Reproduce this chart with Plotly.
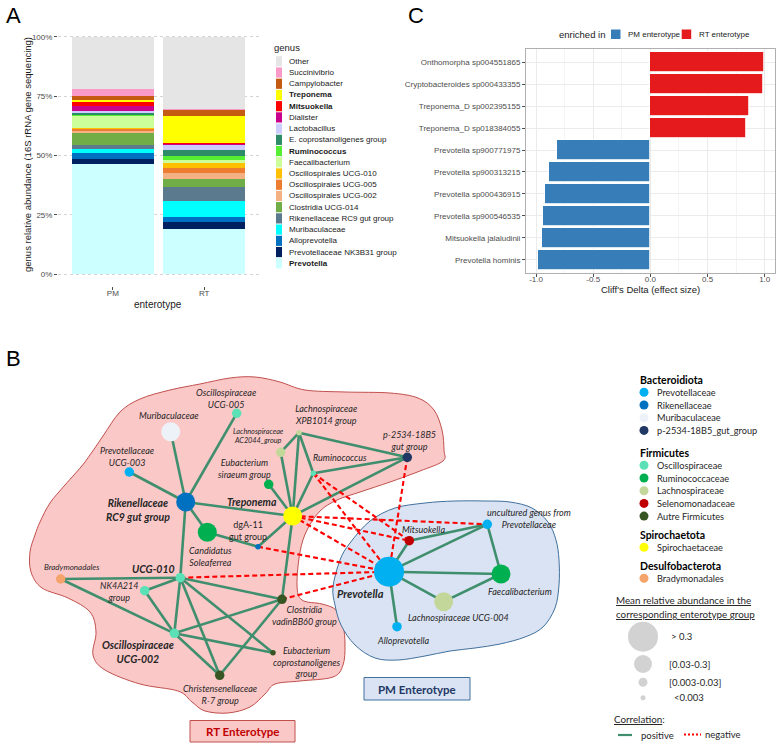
import plotly.graph_objects as go

W, H = 777, 745

# ---------------- Panel A data ----------------
enterotypes = ["PM", "RT"]
genus = ["Prevotella", "Prevotellaceae NK3B31 group", "Alloprevotella", "Muribaculaceae",
         "Rikenellaceae RC9 gut group", "Clostridia UCG-014", "Oscillospirales UCG-002",
         "Oscillospirales UCG-005", "Oscillospirales UCG-010", "Faecalibacterium", "Ruminococcus",
         "E. coprostanoligenes group", "Lactobacillus", "Dialister", "Mitsuokella", "Treponema",
         "Campylobacter", "Succinivibrio", "Other"]
pm_abund = [46.3, 2.4, 2.4, 1.8, 1.5, 5.5, 0.8, 0.6, 0.4, 5.0, 0.4, 1.0, 0.5, 2.4, 1.6, 0.8, 1.7, 3.0, 21.9]
rt_abund = [18.9, 3.1, 1.9, 6.8, 6.1, 3.3, 2.6, 2.2, 2.1, 1.2, 1.5, 2.7, 2.1, 0.6, 0.2, 11.2, 2.8, 0.4, 30.3]
genus_bold = ["Prevotella", "Ruminococcus", "Mitsuokella", "Treponema"]
pct_ticks = [0, 25, 50, 75, 100]
pct_labels = ["0%", "25%", "50%", "75%", "100%"]

# ---------------- Panel C data ----------------
species = ["Prevotella hominis", "Mitsuokella jalaludinii", "Prevotella sp900546535",
           "Prevotella sp000436915", "Prevotella sp900313215", "Prevotella sp900771975",
           "Treponema_D sp018384055", "Treponema_D sp002395155",
           "Cryptobacteroides sp000433355", "Onthomorpha sp004551865"]
cliffs_delta = [-0.986, -0.95, -0.936, -0.924, -0.889, -0.82, 0.837, 0.866, 0.983, 0.995]
delta_ticks = [-1.0, -0.5, 0.0, 0.5, 1.0]
delta_labels = ["-1.0", "-0.5", "0.0", "0.5", "1.0"]
enriched_groups = ["PM enterotype", "RT enterotype"]

# ---------------- Panel B data (network) ----------------
node_names = ["Prevotella", "Alloprevotella", "uncultured genus from Prevotellaceae",
              "Prevotellaceae UCG-003", "Rikenellaceae RC9 gut group", "dgA-11 gut group",
              "Muribaculaceae", "p-2534-18B5 gut group", "Oscillospiraceae UCG-005", "UCG-010",
              "Oscillospiraceae UCG-002", "NK4A214 group", "Ruminococcus", "Candidatus Soleaferrea",
              "Faecalibacterium", "Eubacterium siraeum group", "Lachnospiraceae XPB1014 group",
              "Lachnospiraceae AC2044_group", "Lachnospiraceae UCG-004", "Mitsuokella",
              "Clostridia vadinBB60 group", "Christensenellaceae R-7 group",
              "Eubacterium coprostanoligenes group", "Treponema", "Bradymonadales"]
node_family = ["Prevotellaceae", "Prevotellaceae", "Prevotellaceae", "Prevotellaceae",
               "Rikenellaceae", "Rikenellaceae", "Muribaculaceae", "p-2534-18B5_gut_group",
               "Oscillospiraceae", "Oscillospiraceae", "Oscillospiraceae", "Oscillospiraceae",
               "Oscillospiraceae", "Ruminococcaceae", "Ruminococcaceae", "Ruminococcaceae",
               "Lachnospiraceae", "Lachnospiraceae", "Lachnospiraceae", "Selenomonadaceae",
               "Autre Firmicutes", "Autre Firmicutes", "Autre Firmicutes", "Spirochaetaceae",
               "Bradymonadales"]
node_abundance = [">0.3", "[0.003-0.03]", "[0.003-0.03]", "[0.003-0.03]", "[0.03-0.3]", "<0.003",
                  "[0.03-0.3]", "[0.003-0.03]", "[0.003-0.03]", "[0.003-0.03]", "[0.003-0.03]",
                  "[0.003-0.03]", "<0.003", "[0.03-0.3]", "[0.03-0.3]", "[0.003-0.03]", "<0.003",
                  "[0.003-0.03]", "[0.03-0.3]", "[0.003-0.03]", "[0.003-0.03]", "[0.003-0.03]",
                  "<0.003", "[0.03-0.3]", "[0.003-0.03]"]
positive_edges = [
    ("Muribaculaceae", "Rikenellaceae RC9 gut group"),
    ("Oscillospiraceae UCG-005", "Rikenellaceae RC9 gut group"),
    ("Prevotellaceae UCG-003", "Rikenellaceae RC9 gut group"),
    ("Rikenellaceae RC9 gut group", "Treponema"),
    ("Rikenellaceae RC9 gut group", "Candidatus Soleaferrea"),
    ("Rikenellaceae RC9 gut group", "UCG-010"),
    ("Candidatus Soleaferrea", "dgA-11 gut group"),
    ("dgA-11 gut group", "Treponema"),
    ("Lachnospiraceae XPB1014 group", "Lachnospiraceae AC2044_group"),
    ("Lachnospiraceae XPB1014 group", "Treponema"),
    ("Lachnospiraceae XPB1014 group", "Ruminococcus"),
    ("Lachnospiraceae XPB1014 group", "p-2534-18B5 gut group"),
    ("Lachnospiraceae AC2044_group", "Treponema"),
    ("Eubacterium siraeum group", "Treponema"),
    ("Ruminococcus", "Treponema"),
    ("Ruminococcus", "p-2534-18B5 gut group"),
    ("p-2534-18B5 gut group", "Treponema"),
    ("Treponema", "Clostridia vadinBB60 group"),
    ("UCG-010", "Bradymonadales"),
    ("UCG-010", "NK4A214 group"),
    ("UCG-010", "Oscillospiraceae UCG-002"),
    ("UCG-010", "Clostridia vadinBB60 group"),
    ("UCG-010", "Christensenellaceae R-7 group"),
    ("UCG-010", "Eubacterium coprostanoligenes group"),
    ("Bradymonadales", "Oscillospiraceae UCG-002"),
    ("NK4A214 group", "Oscillospiraceae UCG-002"),
    ("Oscillospiraceae UCG-002", "Clostridia vadinBB60 group"),
    ("Oscillospiraceae UCG-002", "Eubacterium coprostanoligenes group"),
    ("Oscillospiraceae UCG-002", "Christensenellaceae R-7 group"),
    ("Clostridia vadinBB60 group", "Christensenellaceae R-7 group"),
    ("Prevotella", "Mitsuokella"),
    ("Prevotella", "uncultured genus from Prevotellaceae"),
    ("Prevotella", "Faecalibacterium"),
    ("Prevotella", "Lachnospiraceae UCG-004"),
    ("Prevotella", "Alloprevotella"),
    ("Mitsuokella", "uncultured genus from Prevotellaceae"),
    ("uncultured genus from Prevotellaceae", "Faecalibacterium"),
    ("Faecalibacterium", "Lachnospiraceae UCG-004"),
]
negative_edges = [
    ("Treponema", "uncultured genus from Prevotellaceae"),
    ("Treponema", "Mitsuokella"),
    ("Treponema", "Prevotella"),
    ("Ruminococcus", "Mitsuokella"),
    ("Ruminococcus", "Prevotella"),
    ("p-2534-18B5 gut group", "Prevotella"),
    ("dgA-11 gut group", "Prevotella"),
    ("UCG-010", "Prevotella"),
    ("Clostridia vadinBB60 group", "Prevotella"),
]
legend_phyla = ["Bacteroidiota", "Firmicutes", "Spirochaetota", "Desulfobacterota"]
legend_families = [["Prevotellaceae", "Rikenellaceae", "Muribaculaceae", "p-2534-18B5_gut_group"],
                   ["Oscillospiraceae", "Ruminococcaceae", "Lachnospiraceae", "Selenomonadaceae",
                    "Autre Firmicutes"],
                   ["Spirochaetaceae"],
                   ["Bradymonadales"]]
abundance_classes = ["> 0.3", "[0.03-0.3]", "[0.003-0.03]", "<0.003"]

# ---------------- styles / layout positions ----------------
genus_colors = {
    "Prevotella": "#CCFFFF", "Prevotellaceae NK3B31 group": "#002060", "Alloprevotella": "#0070C0",
    "Muribaculaceae": "#00FFFF", "Rikenellaceae RC9 gut group": "#5B7A8E", "Clostridia UCG-014": "#70AD47",
    "Oscillospirales UCG-002": "#F4B183", "Oscillospirales UCG-005": "#ED7D31",
    "Oscillospirales UCG-010": "#FFC000", "Faecalibacterium": "#CCFF99", "Ruminococcus": "#55EE33",
    "E. coprostanoligenes group": "#2E8B67", "Lactobacillus": "#CCCCFF", "Dialister": "#C8008C",
    "Mitsuokella": "#FF0000", "Treponema": "#FFFF00", "Campylobacter": "#C55A11",
    "Succinivibrio": "#F99AC9", "Other": "#E5E5E5"}
family_colors = {
    "Prevotellaceae": "#00B0F0", "Rikenellaceae": "#0070C0", "Muribaculaceae": "#EDF2F9",
    "p-2534-18B5_gut_group": "#1F3864", "Oscillospiraceae": "#5CE1B6", "Ruminococcaceae": "#00B050",
    "Lachnospiraceae": "#C4D79B", "Selenomonadaceae": "#C00000", "Autre Firmicutes": "#375623",
    "Spirochaetaceae": "#FFFF00", "Bradymonadales": "#F4A46A"}
size_px = {">0.3": 30, "[0.03-0.3]": 19, "[0.003-0.03]": 9.5, "<0.003": 5.5}
legend_size_px = [30, 18, 9, 5]

node_x = [389, 397, 487.3, 129.3, 185.7, 258, 170.7, 407.3, 236.7, 180.3, 174.3, 144.7, 313.3, 207.3,
          501, 268.7, 299, 280.7, 443.7, 409.3, 282, 219.7, 273, 292.7, 60.7]
node_y = [571.7, 626.7, 524.3, 472, 502, 546.7, 431.7, 457.3, 413.3, 577.7, 633.3, 590.7, 473.3, 532.3,
          574, 484.3, 432.7, 452.3, 601.7, 540.7, 599.3, 675.3, 652.7, 516, 579]

# label text, x, y, size, style ("i" italic, "b" bold italic, "n" normal)
net_labels = [
    ("Oscillospiraceae<br>UCG-005", 226, 398, 9, "i"),
    ("Muribaculaceae", 169, 415, 9, "i"),
    ("Lachnospiraceae<br>XPB1014 group", 326, 414, 9, "i"),
    ("Lachnospiraceae<br>AC2044_group", 258, 436, 7.3, "i"),
    ("Prevotellaceae<br>UCG-003", 127, 456, 9, "i"),
    ("Eubacterium<br>siraeum group", 244, 468, 9, "i"),
    ("Ruminococcus", 340, 457, 9, "i"),
    ("p-2534-18B5<br>gut group", 409, 440.5, 9, "i"),
    ("Rikenellaceae<br>RC9 gut group", 138, 509.5, 10.5, "b"),
    ("Treponema", 252, 502, 10.5, "b"),
    ("Candidatus<br>Soleaferrea", 210, 556, 9, "i"),
    ("dgA-11<br>gut group", 248, 530, 9, "n"),
    ("UCG-010", 153, 569, 10.5, "b"),
    ("Bradymonadales", 72, 567, 8, "i"),
    ("NK4A214<br>group", 119, 591, 9, "i"),
    ("Clostridia<br>vadinBB60 group", 304, 615, 9, "i"),
    ("Oscillospiraceae<br>UCG-002", 138, 652, 10.5, "b"),
    ("Eubacterium<br>coprostanoligenes<br>group", 306, 661.5, 9, "i"),
    ("Christensenellaceae<br>R-7 group", 220, 694.5, 9, "i"),
    ("Prevotella", 360, 593, 11, "b"),
    ("Mitsuokella", 423, 529, 9, "i"),
    ("uncultured genus from<br>Prevotellaceae", 529, 518, 9, "i"),
    ("Faecalibacterium", 520, 591, 9, "i"),
    ("Lachnospiraceae UCG-004", 458, 617, 9, "i"),
    ("Alloprevotella", 403, 640, 9, "i"),
]

RT_OUTLINE = [(40, 522), (50, 503), (65, 485), (85, 462), (103, 436), (120, 412), (140, 399), (170, 390),
              (200, 384), (230, 378), (255, 377), (280, 382), (305, 390), (345, 392), (390, 393),
              (418, 398), (434, 410), (442, 430), (444, 450), (443, 461), (420, 471), (390, 482),
              (360, 492), (337, 500), (320, 511), (307, 530), (300, 552), (297, 585), (302, 600),
              (322, 604), (336, 610), (343, 625), (345, 645), (343, 665), (333, 677), (300, 681),
              (275, 684), (265, 694), (250, 707), (228, 713), (205, 711), (192, 702), (178, 691),
              (140, 684), (105, 670), (93, 655), (96, 632), (90, 612), (68, 598), (42, 588),
              (31, 572), (30, 552), (35, 535)]
PM_OUTLINE = [(333, 587), (340, 560), (350, 543), (370, 521), (395, 508), (425, 503), (455, 501),
              (485, 501), (510, 502), (532, 508), (548, 522), (556, 540), (559, 560), (559, 585),
              (555, 608), (543, 627), (525, 637), (500, 644), (475, 648), (450, 651), (425, 656),
              (398, 660), (375, 658), (355, 645), (341, 625), (335, 605)]

GG_FONT = "Liberation Sans, Arial, sans-serif"
NET_FONT = "Lato, Open Sans, sans-serif"


def smooth_path(pts):
    n = len(pts)
    d = f"M {pts[0][0]},{pts[0][1]}"
    for i in range(n):
        p0, p1, p2, p3 = pts[(i - 1) % n], pts[i], pts[(i + 1) % n], pts[(i + 2) % n]
        c1 = (p1[0] + (p2[0] - p0[0]) / 6, p1[1] + (p2[1] - p0[1]) / 6)
        c2 = (p2[0] - (p3[0] - p1[0]) / 6, p2[1] - (p3[1] - p1[1]) / 6)
        d += f" C {c1[0]:.1f},{c1[1]:.1f} {c2[0]:.1f},{c2[1]:.1f} {p2[0]:.1f},{p2[1]:.1f}"
    return d + " Z"


def dom_x(a, b):
    return [a / W, b / W]


def dom_y(top, bottom):
    return [1 - bottom / H, 1 - top / H]


fig = go.Figure()
annotations = []
shapes = []


def ann(text, x, y, size=9, color="#262626", family=NET_FONT, xanchor="center", yanchor="middle",
        align="center", **kw):
    annotations.append(dict(text=text, x=x, y=y, xref="x3", yref="y3", showarrow=False,
                            font=dict(size=size, color=color, family=family), xanchor=xanchor,
                            yanchor=yanchor, align=align, **kw))


# ---------------- Panel A ----------------
for g, pm, rt in zip(genus, pm_abund, rt_abund):
    fig.add_trace(go.Bar(x=enterotypes, y=[pm, rt], name=g, width=0.9,
                         marker=dict(color=genus_colors[g], line=dict(width=0)),
                         xaxis="x", yaxis="y", showlegend=False))

# manual legend for A
ann("genus", 272, 47, size=9.5, color="#1A1A1A", family=GG_FONT, xanchor="left")
for i, g in enumerate(reversed(genus)):
    yc = 61.3 + i * 11.22
    shapes.append(dict(type="rect", xref="x3", yref="y3", x0=276, x1=282, y0=yc - 5.1, y1=yc + 5.1,
                       fillcolor=genus_colors[g], line=dict(width=0)))
    txt = f"<b>{g}</b>" if g in genus_bold else g
    ann(txt, 287, yc, size=8, color="#1A1A1A", family=GG_FONT, xanchor="left")

ann("genus relative abundance (16S rRNA gene sequencing)", 27, 155, size=9.5, color="#1A1A1A",
    family=GG_FONT, textangle=-90)
ann("enterotype", 158, 304, size=10, color="#1A1A1A", family=GG_FONT)

# ---------------- Panel C ----------------
bar_colors = ["#377EB8" if d < 0 else "#E41A1C" for d in cliffs_delta]
fig.add_trace(go.Bar(x=cliffs_delta, y=species, orientation="h", width=0.9,
                     marker=dict(color=bar_colors, line=dict(color="white", width=0.8)),
                     xaxis="x2", yaxis="y2", showlegend=False))
ann("enriched in", 557, 34, size=9.5, color="#1A1A1A", family=GG_FONT, xanchor="left")
for (x0, tx), grp, col in zip([(611, 625.5), (681.7, 696.5)], enriched_groups, ["#377EB8", "#E41A1C"]):
    shapes.append(dict(type="rect", xref="x3", yref="y3", x0=x0, x1=x0 + 9.5, y0=29.5, y1=39,
                       fillcolor=col, line=dict(width=0)))
    ann(grp, tx, 34, size=8, color="#1A1A1A", family=GG_FONT, xanchor="left")
ann("Cliff's Delta (effect size)", 650, 289, size=9.5, color="#1A1A1A", family=GG_FONT)

# panel letters
ann("A", 13, 15, size=22, color="black", family=GG_FONT)
ann("C", 416, 15, size=22, color="black", family=GG_FONT)
ann("B", 13, 358, size=22, color="black", family=GG_FONT)

# ---------------- Panel B ----------------
shapes.append(dict(type="path", xref="x3", yref="y3", path=smooth_path(RT_OUTLINE),
                   fillcolor="#FBC8C8", line=dict(color="#C0504D", width=1), layer="below"))
shapes.append(dict(type="path", xref="x3", yref="y3", path=smooth_path(PM_OUTLINE),
                   fillcolor="#DAE3F3", line=dict(color="#41719C", width=1), layer="below"))

pos = {n: (x, y) for n, x, y in zip(node_names, node_x, node_y)}


def edge_xy(edges):
    xs, ys = [], []
    for a, b in edges:
        xs += [pos[a][0], pos[b][0], None]
        ys += [pos[a][1], pos[b][1], None]
    return xs, ys


ex, ey = edge_xy(positive_edges)
fig.add_trace(go.Scatter(x=ex, y=ey, mode="lines", line=dict(color="#3F8F6E", width=2.6),
                         xaxis="x3", yaxis="y3", showlegend=False, hoverinfo="skip"))
ex, ey = edge_xy(negative_edges)
fig.add_trace(go.Scatter(x=ex, y=ey, mode="lines", line=dict(color="#FF0000", width=2.1, dash="5px,3px"),
                         xaxis="x3", yaxis="y3", showlegend=False, hoverinfo="skip"))
fig.add_trace(go.Scatter(x=node_x, y=node_y, mode="markers", text=node_names,
                         marker=dict(size=[size_px[a] for a in node_abundance],
                                     color=[family_colors[f] for f in node_family],
                                     line=dict(width=0), opacity=1),
                         xaxis="x3", yaxis="y3", showlegend=False, hoverinfo="text"))

for text, x, y, s, st in net_labels:
    if st == "b":
        t = f"<b><i>{text}</i></b>"
    elif st == "i":
        t = f"<i>{text}</i>"
    else:
        t = text
    ann(t, x, y, size=s, color="#262626")

# enterotype boxes
shapes.append(dict(type="rect", xref="x3", yref="y3", x0=190, x1=295, y0=720.5, y1=742,
                   fillcolor="#FBC8C8", line=dict(color="#C0504D", width=1)))
ann("<b>RT Enterotype</b>", 242.5, 731.5, size=11.5, color="#C00000")
shapes.append(dict(type="rect", xref="x3", yref="y3", x0=364, x1=470, y0=677.5, y1=700,
                   fillcolor="#DAE3F3", line=dict(color="#41719C", width=1)))
ann("<b>PM Enterotype</b>", 417, 689, size=11.5, color="#1F3864")

# legend B: families
header_y = [380, 453, 535, 566]
leg_x, leg_y, leg_c = [], [], []
for hy, phylum, fams in zip(header_y, legend_phyla, legend_families):
    ann(f"<b>{phylum}</b>", 638, hy, size=10.5, color="black", xanchor="left")
    for j, fam in enumerate(fams):
        iy = hy + 12.3 + j * 12.7
        leg_x.append(644)
        leg_y.append(iy)
        leg_c.append(family_colors[fam])
        ann(fam, 655, iy, size=9.2, color="#262626", xanchor="left")
fig.add_trace(go.Scatter(x=leg_x, y=leg_y, mode="markers",
                         marker=dict(size=9, color=leg_c, line=dict(width=0)),
                         xaxis="x3", yaxis="y3", showlegend=False, hoverinfo="skip"))

ann("<u>Mean relative abundance in the</u>", 614, 600, size=9.8, color="#262626", xanchor="left")
ann("<u>corresponding enterotype group</u>", 614, 614, size=9.8, color="#262626", xanchor="left")
size_y = [636.7, 664, 682.3, 697.7]
fig.add_trace(go.Scatter(x=[643] * 4, y=size_y, mode="markers",
                         marker=dict(size=legend_size_px, color="#BFBFBF", line=dict(width=0)),
                         xaxis="x3", yaxis="y3", showlegend=False, hoverinfo="skip"))
for lab, yy, xx in zip(abundance_classes, size_y, [669, 667, 667, 671.5]):
    ann(lab, xx, yy, size=9.5, color="#262626", xanchor="left")

ann("<u>Correlation</u>:", 611.5, 719, size=9.8, color="#262626", xanchor="left")
shapes.append(dict(type="line", xref="x3", yref="y3", x0=618, x1=632, y0=735, y1=735,
                   line=dict(color="#3F8F6E", width=2.2)))
ann("positive", 639, 735, size=9.5, color="#262626", xanchor="left")
shapes.append(dict(type="line", xref="x3", yref="y3", x0=684, x1=701, y0=734.5, y1=734.5,
                   line=dict(color="#FF0000", width=2, dash="2px,2px")))
ann("negative", 702.5, 734.5, size=9.5, color="#262626", xanchor="left")

# ---------------- layout ----------------
fig.update_layout(
    width=W, height=H, autosize=False,
    margin=dict(l=0, r=0, t=0, b=0),
    paper_bgcolor="white", plot_bgcolor="rgba(0,0,0,0)",
    barmode="stack", bargap=0,
    showlegend=False,
    annotations=annotations, shapes=shapes,
    xaxis=dict(domain=dom_x(58, 259), range=[-0.6, 1.6], type="category", anchor="y",
               showgrid=False, zeroline=False, showline=False,
               ticks="outside", ticklen=3, tickcolor="#4D4D4D", ticklabelstandoff=-4,
               tickfont=dict(size=8, color="#4D4D4D", family=GG_FONT), fixedrange=True),
    yaxis=dict(domain=dom_y(25, 286), range=[-5, 105], anchor="x",
               tickvals=pct_ticks, ticktext=pct_labels,
               showgrid=True, gridcolor="#D4D4D4", griddash="dot", gridwidth=1,
               zeroline=False, showline=False,
               ticks="outside", ticklen=3, tickcolor="#4D4D4D",
               tickfont=dict(size=8, color="#4D4D4D", family=GG_FONT), fixedrange=True),
    xaxis2=dict(domain=dom_x(526, 775), range=[-1.088, 1.09], anchor="y2",
                tickvals=delta_ticks, ticktext=delta_labels,
                showgrid=True, gridcolor="#EBEBEB", gridwidth=1, zeroline=False,
                minor=dict(tickvals=[-0.75, -0.25, 0.25, 0.75], showgrid=True,
                           gridcolor="#F4F4F4", gridwidth=0.6),
                showline=True, mirror=True, linecolor="#B0B0B0", linewidth=1,
                ticks="outside", ticklen=3, tickcolor="#4D4D4D", ticklabelstandoff=-5,
                tickfont=dict(size=8, color="#4D4D4D", family=GG_FONT), fixedrange=True),
    yaxis2=dict(domain=dom_y(49, 273), range=[-0.6, 9.6], anchor="x2", type="category",
                categoryorder="array", categoryarray=species,
                showgrid=True, gridcolor="#EBEBEB", gridwidth=1, zeroline=False,
                showline=True, mirror=True, linecolor="#B0B0B0", linewidth=1,
                ticks="outside", ticklen=3, tickcolor="#4D4D4D",
                tickfont=dict(size=8, color="#4D4D4D", family=GG_FONT), fixedrange=True),
    xaxis3=dict(domain=[0, 1], range=[0, W], anchor="y3", visible=False, fixedrange=True),
    yaxis3=dict(domain=[0, 1], range=[H, 0], anchor="x3", visible=False, fixedrange=True),
)

fig.write_html("out.html", config={"displayModeBar": False},
               post_script="document.body.style.margin='0px';document.body.style.overflow='hidden';")
